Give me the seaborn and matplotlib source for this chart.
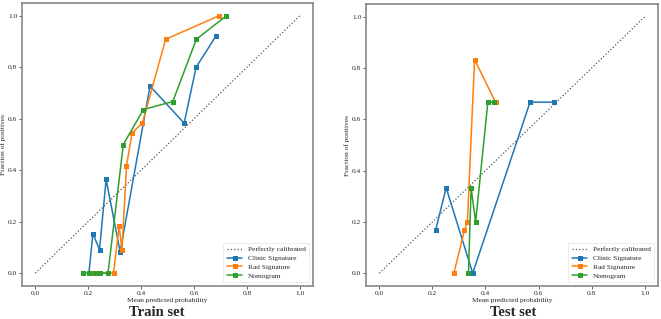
import matplotlib
matplotlib.use("Agg")
import matplotlib.pyplot as plt
import seaborn as sns
import pandas as pd

sns.set_style("white")
plt.rcParams['font.family'] = ['Liberation Serif', 'DejaVu Serif']

series_names = ["Clinic Signature", "Rad Signature", "Nomogram"]
colors = ["#1f77b4", "#ff7f0e", "#2ca02c"]

# Train set
train_clinic_x = [0.203, 0.218, 0.243, 0.268, 0.321, 0.434, 0.563, 0.608, 0.684]
train_clinic_y = [0.0, 0.154, 0.091, 0.364, 0.083, 0.727, 0.583, 0.800, 0.923]
train_rad_x = [0.215, 0.296, 0.317, 0.328, 0.345, 0.366, 0.405, 0.493, 0.694]
train_rad_y = [0.0, 0.0, 0.182, 0.091, 0.417, 0.545, 0.583, 0.909, 1.0]
train_nomo_x = [0.182, 0.205, 0.225, 0.245, 0.275, 0.333, 0.409, 0.520, 0.609, 0.722]
train_nomo_y = [0.0, 0.0, 0.0, 0.0, 0.0, 0.5, 0.636, 0.667, 0.909, 1.0]

# Test set
test_clinic_x = [0.212, 0.252, 0.352, 0.568, 0.660]
test_clinic_y = [0.167, 0.333, 0.0, 0.667, 0.667]
test_rad_x = [0.281, 0.321, 0.332, 0.359, 0.438]
test_rad_y = [0.0, 0.167, 0.2, 0.833, 0.667]
test_nomo_x = [0.336, 0.346, 0.363, 0.409, 0.432]
test_nomo_y = [0.0, 0.333, 0.2, 0.667, 0.667]

ticks = [0.0, 0.2, 0.4, 0.6, 0.8, 1.0]
tick_labels = ["0.0", "0.2", "0.4", "0.6", "0.8", "1.0"]

fig = plt.figure(figsize=(6.61, 3.19), dpi=100)
W, H = 661, 319
ax1 = fig.add_axes([22 / W, 1 - 286 / H, (313 - 22) / W, (286 - 3) / H])
ax2 = fig.add_axes([366 / W, 1 - 286 / H, (658 - 366) / W, (286 - 4) / H])

panels = [
    (ax1, [(train_clinic_x, train_clinic_y), (train_rad_x, train_rad_y), (train_nomo_x, train_nomo_y)], "Train set"),
    (ax2, [(test_clinic_x, test_clinic_y), (test_rad_x, test_rad_y), (test_nomo_x, test_nomo_y)], "Test set"),
]

for ax, data, title in panels:
    ax.plot([0, 1], [0, 1], linestyle=":", color="#555555", linewidth=0.9, label="Perfectly calibrated")
    for (xs, ys), name, c in zip(data, series_names, colors):
        df = pd.DataFrame({"x": xs, "y": ys})
        sns.lineplot(data=df, x="x", y="y", ax=ax, sort=False, estimator=None,
                     color=c, marker="s", markersize=3.6, markeredgewidth=0,
                     linewidth=1.1, label=name)
    ax.set_xlim(-0.05, 1.05)
    ax.set_ylim(-0.05, 1.05)
    ax.set_xticks(ticks)
    ax.set_xticklabels(tick_labels)
    ax.set_yticks(ticks)
    ax.set_yticklabels(tick_labels)
    ax.tick_params(labelsize=5.3, length=2, width=0.6, color="#444444", pad=1.5, direction="out",
                   bottom=True, left=True)
    ax.set_xlabel("Mean predicted probability", fontsize=5.3, labelpad=1.5)
    ax.set_ylabel("Fraction of positives", fontsize=5.3, labelpad=1.5)
    for s in ax.spines.values():
        s.set_color("#888888")
        s.set_linewidth(1.2)
    leg = ax.legend(loc="lower right", fontsize=5.3, frameon=True, fancybox=False,
                    edgecolor="#dddddd", handlelength=2.0, borderpad=0.5, labelspacing=0.35,
                    handletextpad=0.8, borderaxespad=0.5)
    leg.get_frame().set_linewidth(0.5)

fig.text(157 / W, 1 - 312 / H, "Train set", ha="center", va="center", fontsize=10.5, fontweight="bold")
fig.text(513 / W, 1 - 312 / H, "Test set", ha="center", va="center", fontsize=10.5, fontweight="bold")

fig.savefig("out.png", dpi=100)
